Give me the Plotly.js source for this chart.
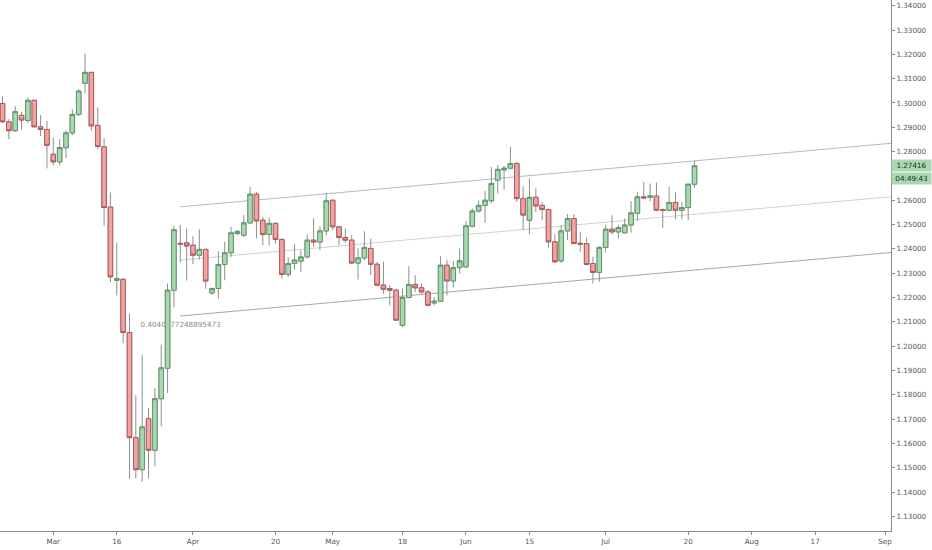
<!DOCTYPE html>
<html>
<head>
<meta charset="utf-8">
<script src="https://cdn.plot.ly/plotly-3.0.1.min.js"></script>
<style>
  html, body { margin: 0; padding: 0; background: #ffffff; }
  #chart { width: 932px; height: 550px; }
</style>
</head>
<body>
<div id="chart"></div>
<script>
//daily candles
const dates = [
  "2020-02-19", "2020-02-20", "2020-02-21", "2020-02-24", "2020-02-25", "2020-02-26", "2020-02-27", "2020-02-28",
  "2020-03-02", "2020-03-03", "2020-03-04", "2020-03-05", "2020-03-06", "2020-03-09", "2020-03-10", "2020-03-11",
  "2020-03-12", "2020-03-13", "2020-03-16", "2020-03-17", "2020-03-18", "2020-03-19", "2020-03-20", "2020-03-23",
  "2020-03-24", "2020-03-25", "2020-03-26", "2020-03-27", "2020-03-30", "2020-03-31", "2020-04-01", "2020-04-02",
  "2020-04-03", "2020-04-06", "2020-04-07", "2020-04-08", "2020-04-09", "2020-04-10", "2020-04-13", "2020-04-14",
  "2020-04-15", "2020-04-16", "2020-04-17", "2020-04-20", "2020-04-21", "2020-04-22", "2020-04-23", "2020-04-24",
  "2020-04-27", "2020-04-28", "2020-04-29", "2020-04-30", "2020-05-01", "2020-05-04", "2020-05-05", "2020-05-06",
  "2020-05-07", "2020-05-08", "2020-05-11", "2020-05-12", "2020-05-13", "2020-05-14", "2020-05-15", "2020-05-18",
  "2020-05-19", "2020-05-20", "2020-05-21", "2020-05-22", "2020-05-25", "2020-05-26", "2020-05-27", "2020-05-28",
  "2020-05-29", "2020-06-01", "2020-06-02", "2020-06-03", "2020-06-04", "2020-06-05", "2020-06-08", "2020-06-09",
  "2020-06-10", "2020-06-11", "2020-06-12", "2020-06-15", "2020-06-16", "2020-06-17", "2020-06-18", "2020-06-19",
  "2020-06-22", "2020-06-23", "2020-06-24", "2020-06-25", "2020-06-26", "2020-06-29", "2020-06-30", "2020-07-01",
  "2020-07-02", "2020-07-03", "2020-07-06", "2020-07-07", "2020-07-08", "2020-07-09", "2020-07-10", "2020-07-13",
  "2020-07-14", "2020-07-15", "2020-07-16", "2020-07-17", "2020-07-20", "2020-07-21",
];

const open = [
  1.2998, 1.2923, 1.2886, 1.2949, 1.2928, 1.3011, 1.2902, 1.2891,
  1.2789, 1.2758, 1.2816, 1.2877, 1.2953, 1.3081, 1.3126, 1.2908,
  1.2820, 1.2572, 1.2271, 1.2275, 1.2056, 1.1624, 1.1492, 1.1702,
  1.1572, 1.1784, 1.1909, 1.2230, 1.2423, 1.2425, 1.2415, 1.2374,
  1.2398, 1.2219, 1.2237, 1.2336, 1.2384, 1.2463, 1.2456, 1.2507,
  1.2625, 1.2518, 1.2459, 1.2505, 1.2439, 1.2295, 1.2340, 1.2350,
  1.2367, 1.2436, 1.2428, 1.2474, 1.2600, 1.2491, 1.2447, 1.2436,
  1.2342, 1.2363, 1.2402, 1.2337, 1.2251, 1.2237, 1.2230, 1.2086,
  1.2200, 1.2254, 1.2240, 1.2223, 1.2178, 1.2185, 1.2333, 1.2268,
  1.2323, 1.2326, 1.2493, 1.2556, 1.2579, 1.2598, 1.2683, 1.2725,
  1.2732, 1.2751, 1.2607, 1.2518, 1.2612, 1.2579, 1.2562, 1.2429,
  1.2351, 1.2474, 1.2525, 1.2423, 1.2422, 1.2340, 1.2303, 1.2406,
  1.2481, 1.2470, 1.2466, 1.2498, 1.2546, 1.2614, 1.2612, 1.2617,
  1.2562, 1.2559, 1.2591, 1.2559, 1.2570, 1.2666,
];

const high = [
  1.3028, 1.2934, 1.2987, 1.2964, 1.3023, 1.3012, 1.2950, 1.2926,
  1.2856, 1.2851, 1.2888, 1.2974, 1.3056, 1.3204, 1.3127, 1.2982,
  1.2856, 1.2632, 1.2426, 1.2280, 1.2134, 1.1798, 1.1965, 1.1746,
  1.1828, 1.2007, 1.2258, 1.2495, 1.2498, 1.2484, 1.2452, 1.2480,
  1.2400, 1.2241, 1.2391, 1.2429, 1.2491, 1.2477, 1.2539, 1.2655,
  1.2635, 1.2532, 1.2529, 1.2508, 1.2442, 1.2365, 1.2419, 1.2395,
  1.2459, 1.2525, 1.2493, 1.2630, 1.2603, 1.2493, 1.2484, 1.2456,
  1.2402, 1.2473, 1.2443, 1.2347, 1.2347, 1.2251, 1.2237, 1.2237,
  1.2329, 1.2292, 1.2258, 1.2230, 1.2202, 1.2370, 1.2354, 1.2351,
  1.2402, 1.2515, 1.2566, 1.2600, 1.2639, 1.2737, 1.2744, 1.2740,
  1.2820, 1.2758, 1.2658, 1.2690, 1.2649, 1.2593, 1.2566, 1.2461,
  1.2498, 1.2543, 1.2543, 1.2470, 1.2447, 1.2367, 1.2411, 1.2498,
  1.2539, 1.2498, 1.2525, 1.2596, 1.2635, 1.2676, 1.2669, 1.2673,
  1.2566, 1.2655, 1.2632, 1.2593, 1.2669, 1.2762,
];

const low = [
  1.2917, 1.2851, 1.2881, 1.2891, 1.2919, 1.2901, 1.2864, 1.2731,
  1.2744, 1.2744, 1.2774, 1.2868, 1.2946, 1.3040, 1.2886, 1.2809,
  1.2495, 1.2264, 1.2209, 1.2012, 1.1455, 1.1456, 1.1442, 1.1455,
  1.1506, 1.1670, 1.1808, 1.2160, 1.2345, 1.2270, 1.2337, 1.2356,
  1.2236, 1.2210, 1.2195, 1.2271, 1.2367, 1.2456, 1.2449, 1.2505,
  1.2443, 1.2415, 1.2415, 1.2422, 1.2277, 1.2285, 1.2315, 1.2305,
  1.2361, 1.2408, 1.2395, 1.2455, 1.2477, 1.2415, 1.2425, 1.2337,
  1.2274, 1.2354, 1.2292, 1.2246, 1.2216, 1.2168, 1.2104, 1.2079,
  1.2196, 1.2223, 1.2216, 1.2164, 1.2168, 1.2182, 1.2209, 1.2241,
  1.2299, 1.2323, 1.2488, 1.2548, 1.2507, 1.2587, 1.2628, 1.2644,
  1.2727, 1.2593, 1.2477, 1.2461, 1.2552, 1.2518, 1.2406, 1.2342,
  1.2342, 1.2436, 1.2420, 1.2388, 1.2333, 1.2258, 1.2264, 1.2386,
  1.2459, 1.2443, 1.2463, 1.2467, 1.2514, 1.2605, 1.2596, 1.2555,
  1.2486, 1.2555, 1.2522, 1.2522, 1.2518, 1.2651,
];

const close = [
  1.2923, 1.2886, 1.2964, 1.2930, 1.3011, 1.2902, 1.2891, 1.2826,
  1.2758, 1.2817, 1.2877, 1.2953, 1.3049, 1.3126, 1.2906, 1.2821,
  1.2570, 1.2285, 1.2278, 1.2056, 1.1624, 1.1492, 1.1668, 1.1572,
  1.1784, 1.1911, 1.2230, 1.2479, 1.2420, 1.2412, 1.2374, 1.2398,
  1.2268, 1.2237, 1.2336, 1.2384, 1.2466, 1.2472, 1.2507, 1.2625,
  1.2515, 1.2459, 1.2505, 1.2439, 1.2295, 1.2340, 1.2354, 1.2367,
  1.2436, 1.2428, 1.2474, 1.2598, 1.2491, 1.2447, 1.2436, 1.2342,
  1.2363, 1.2406, 1.2337, 1.2251, 1.2234, 1.2230, 1.2107, 1.2200,
  1.2254, 1.2240, 1.2223, 1.2168, 1.2185, 1.2333, 1.2268, 1.2323,
  1.2351, 1.2495, 1.2556, 1.2579, 1.2600, 1.2669, 1.2727, 1.2732,
  1.2751, 1.2607, 1.2539, 1.2612, 1.2577, 1.2562, 1.2429, 1.2347,
  1.2474, 1.2525, 1.2422, 1.2419, 1.2336, 1.2303, 1.2406, 1.2481,
  1.2470, 1.2488, 1.2498, 1.2548, 1.2614, 1.2610, 1.2618, 1.2559,
  1.2558, 1.2591, 1.2559, 1.2570, 1.2666, 1.27416,
];

//time axis labels
const xTickDates = [
  "2020-03-02", "2020-03-16", "2020-04-01", "2020-04-20", "2020-05-01", "2020-05-18", "2020-06-01",
  "2020-06-15", "2020-07-01", "2020-07-20", "2020-08-03", "2020-08-17", "2020-09-01",
];
const xTickLabels = ["Mar", "16", "Apr", "20", "May", "18", "Jun", "15", "Jul", "20", "Aug", "17", "Sep"];

//price axis labels (1.27000 sits under the countdown tag)
const yTickVals = [
  1.13, 1.14, 1.15, 1.16, 1.17, 1.18, 1.19, 1.20, 1.21, 1.22, 1.23,
  1.24, 1.25, 1.26, 1.28, 1.29, 1.30, 1.31, 1.32, 1.33, 1.34,
];

//parallel channel (start, end)
const channelDates = ["2020-03-30 12:00", "2020-09-04 12:00"];
const channelUpper = [1.2573, 1.2839];
const channelMiddle = [1.2354, 1.2619];
const channelLower = [1.2124, 1.2390];
const channelLabel = "0.4040877248895473";
const channelLabelDate = "2020-03-20 06:00";
const channelLabelPrice = 1.2090;

//last price + countdown
const lastPrice = 1.27416;
const countdown = "04:49:43";

const font = "DejaVu Sans, Verdana, sans-serif";
const upFill = "#a9d8b2";
const upLine = "#5f9a6b";
const downFill = "#f2a3a3";
const downLine = "#b35a5a";
const wickColor = "#8e8e8e";

// candles centred at noon so bodies never touch the weekend breaks
const xs = dates.map((d) => d + " 12:00");
const bodyTop = open.map((o, i) => Math.max(o, close[i]));
const bodyBottom = open.map((o, i) => Math.min(o, close[i]));

const wicks = {
  type: "candlestick",
  x: xs,
  open: open,
  high: high,
  low: low,
  close: close,
  increasing: { line: { color: wickColor, width: 1 }, fillcolor: wickColor },
  decreasing: { line: { color: wickColor, width: 1 }, fillcolor: wickColor },
  hoverinfo: "skip",
  showlegend: false,
};

const bodies = {
  type: "candlestick",
  x: xs,
  open: open,
  high: bodyTop,
  low: bodyBottom,
  close: close,
  increasing: { line: { color: upLine, width: 1 }, fillcolor: upFill },
  decreasing: { line: { color: downLine, width: 1 }, fillcolor: downFill },
  hoverinfo: "skip",
  showlegend: false,
};

function channelLine(prices, color) {
  return {
    type: "line",
    layer: "below",
    xref: "x",
    yref: "y",
    x0: channelDates[0],
    x1: channelDates[1],
    y0: prices[0],
    y1: prices[1],
    line: { color: color, width: 1 },
  };
}

function priceTag(text, shift) {
  return {
    xref: "paper",
    x: 1,
    xanchor: "left",
    yref: "y",
    y: lastPrice,
    yanchor: "middle",
    yshift: shift,
    text: text,
    showarrow: false,
    bgcolor: "#a9d8b2",
    width: 37,
    height: 8.5,
    borderpad: 1,
    font: { family: font, size: 7.2, color: "#1f2a22" },
  };
}

const layout = {
  width: 932,
  height: 550,
  margin: { l: 0, r: 41, t: 0, b: 19 },
  paper_bgcolor: "#ffffff",
  plot_bgcolor: "#ffffff",
  showlegend: false,
  boxgap: 0.29,
  boxgroupgap: 0,
  font: { family: font, size: 7.2, color: "#555555" },
  xaxis: {
    type: "date",
    range: ["2020-02-19 02:33", "2020-09-02 10:40"],
    rangebreaks: [{ bounds: ["sat", "mon"] }],
    rangeslider: { visible: false },
    tickmode: "array",
    tickvals: xTickDates.map((d) => d + " 12:00"),
    ticktext: xTickLabels,
    ticks: "outside",
    ticklen: 3,
    tickcolor: "#8c8c8c",
    showline: true,
    linecolor: "#8c8c8c",
    linewidth: 1,
    showgrid: false,
    zeroline: false,
    tickfont: { family: font, size: 7.2, color: "#555555" },
    fixedrange: true,
  },
  yaxis: {
    side: "right",
    range: [1.124, 1.34235],
    tickmode: "array",
    tickvals: yTickVals,
    ticktext: yTickVals.map((v) => v.toFixed(5)),
    ticks: "outside",
    ticklen: 3,
    tickcolor: "#8c8c8c",
    showline: true,
    linecolor: "#8c8c8c",
    linewidth: 1,
    showgrid: false,
    zeroline: false,
    tickfont: { family: font, size: 7.2, color: "#555555" },
    fixedrange: true,
  },
  shapes: [
    channelLine(channelUpper, "#b9b9b9"),
    channelLine(channelMiddle, "#d2d2d2"),
    channelLine(channelLower, "#a6a6a6"),
    {
      type: "line",
      layer: "below",
      xref: "x",
      yref: "y",
      x0: channelLabelDate,
      x1: channelLabelDate,
      y0: channelLabelPrice,
      y1: channelLabelPrice,
      line: { color: "rgba(0,0,0,0)", width: 0 },
      label: {
        text: channelLabel,
        textposition: "start",
        textangle: 0,
        xanchor: "left",
        yanchor: "middle",
        padding: 0,
        font: { family: font, size: 7.2, color: "#8a8a8a" },
      },
    },
  ],
  annotations: [priceTag(lastPrice.toFixed(5), 0), priceTag(countdown, -13)],
};

Plotly.newPlot("chart", [wicks, bodies], layout, { displayModeBar: false, staticPlot: true });
</script>
</body>
</html>
